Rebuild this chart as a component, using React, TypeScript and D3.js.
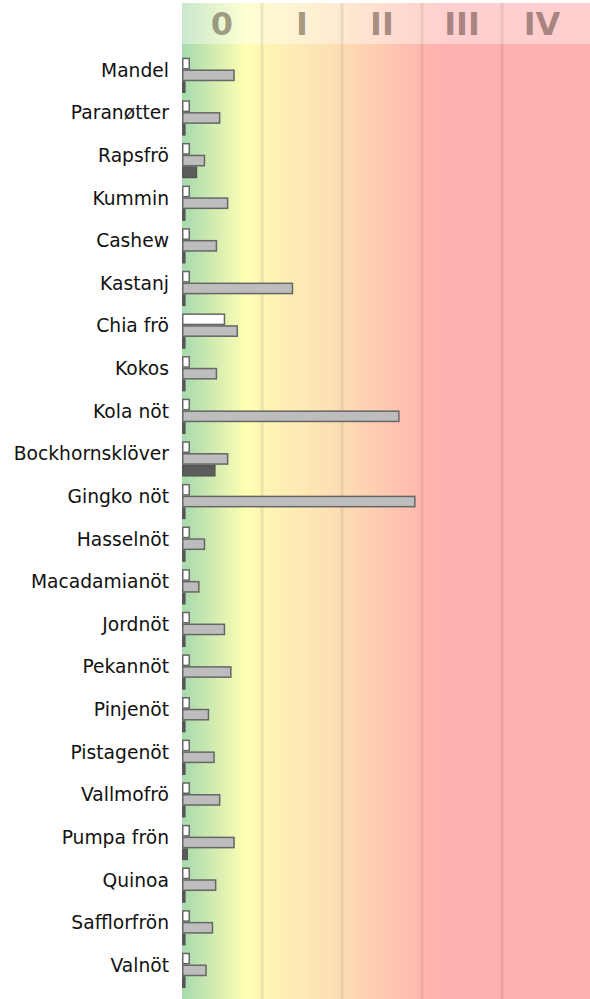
import React from "react";
import * as d3 from "d3";

// Data
const categories = [
  "Mandel", "Paranøtter", "Rapsfrö", "Kummin", "Cashew", "Kastanj", "Chia frö",
  "Kokos", "Kola nöt", "Bockhornsklöver", "Gingko nöt", "Hasselnöt", "Macadamianöt",
  "Jordnöt", "Pekannöt", "Pinjenöt", "Pistagenöt", "Vallmofrö", "Pumpa frön",
  "Quinoa", "Safflorfrön", "Valnöt",
];
const lowValues = [
  0.1, 0.1, 0.1, 0.1, 0.1, 0.1, 0.54, 0.1, 0.1, 0.1, 0.1,
  0.1, 0.1, 0.1, 0.1, 0.1, 0.1, 0.1, 0.1, 0.1, 0.1, 0.1,
];
const midValues = [
  0.66, 0.48, 0.29, 0.58, 0.44, 1.39, 0.7, 0.44, 2.72, 0.58, 2.92,
  0.29, 0.22, 0.54, 0.62, 0.34, 0.41, 0.48, 0.66, 0.43, 0.39, 0.31,
];
const highValues = [
  0.045, 0.045, 0.19, 0.045, 0.045, 0.045, 0.045, 0.045, 0.045, 0.42, 0.045,
  0.045, 0.045, 0.045, 0.045, 0.045, 0.045, 0.045, 0.075, 0.045, 0.045, 0.045,
];
const zoneLabels = ["0", "I", "II", "III", "IV"];

const series = [
  { key: "low", values: lowValues, fill: "#ffffff", stroke: "#666" },
  { key: "mid", values: midValues, fill: "#bdbdbd", stroke: "#666" },
  { key: "high", values: highValues, fill: "#5c5c5c", stroke: "#555" },
];

const App = () => {
  // Dimensions
  const width = 590;
  const height = 999;
  const left = 182;
  const headerTop = 3;
  const headerBottom = 44;

  // Scales
  const x = d3.scaleLinear().domain([0, 5]).range([left, left + 400]);
  const y = d3
    .scaleBand()
    .domain(categories)
    .range([57.7, 57.7 + categories.length * 42.62]);
  const sub = d3
    .scaleBand()
    .domain(series.map((s) => s.key))
    .range([0, 35.3]);

  // gradient stops in zone units
  const stops = [
    { v: 0, c: "#a6d9ae" },
    { v: 0.8, c: "#ffffb2" },
    { v: 1.0, c: "#fff6b4" },
    { v: 2.0, c: "#fddcb4" },
    { v: 3.0, c: "#ffb8ae" },
    { v: 3.3, c: "#ffb0b0" },
    { v: 5.1, c: "#ffb0b0" },
  ];
  const gx0 = x(0);
  const gx1 = width;

  return (
    <svg
      width={width}
      height={height}
      style={{ position: "absolute", left: 0, top: 0, fontFamily: "DejaVu Sans" }}
    >
      <defs>
        <linearGradient id="zones" gradientUnits="userSpaceOnUse" x1={gx0} x2={gx1} y1={0} y2={0}>
          {stops.map((s, i) => (
            <stop key={i} offset={(x(s.v) - gx0) / (gx1 - gx0)} stopColor={s.c} />
          ))}
        </linearGradient>
      </defs>

      {/* background */}
      <rect x={gx0} y={headerTop} width={gx1 - gx0} height={height - headerTop} fill="url(#zones)" />
      <rect x={gx0} y={headerTop} width={gx1 - gx0} height={headerBottom - headerTop} fill="#fff" opacity={0.4} />

      {/* zone separators */}
      {[1, 2, 3, 4].map((v) => (
        <line
          key={v}
          x1={x(v)}
          x2={x(v)}
          y1={headerTop}
          y2={height}
          stroke="#000"
          strokeOpacity={0.07}
          strokeWidth={3}
        />
      ))}

      {/* header labels */}
      {zoneLabels.map((label, i) => (
        <text
          key={label}
          x={x(i + 0.5)}
          y={35}
          textAnchor="middle"
          fontSize={32}
          fontWeight="bold"
          fill="#2a1a10"
          fillOpacity={0.42}
        >
          {label}
        </text>
      ))}

      {/* bars */}
      {categories.map((cat, i) => (
        <g key={cat}>
          {series.map((s) => (
            <rect
              key={s.key}
              x={x(0) + 0.75}
              y={(y(cat) as number) + (sub(s.key) as number) + 0.75}
              width={Math.max(x(s.values[i]) - x(0) - 1.5, 1)}
              height={sub.bandwidth() - 1.5}
              fill={s.fill}
              stroke={s.stroke}
              strokeWidth={1.5}
            />
          ))}
          <text
            x={169}
            y={(y(cat) as number) + 12.5}
            dy="0.35em"
            textAnchor="end"
            fontSize={18.7}
            fill="#111"
          >
            {cat}
          </text>
        </g>
      ))}
    </svg>
  );
};

export default App;
